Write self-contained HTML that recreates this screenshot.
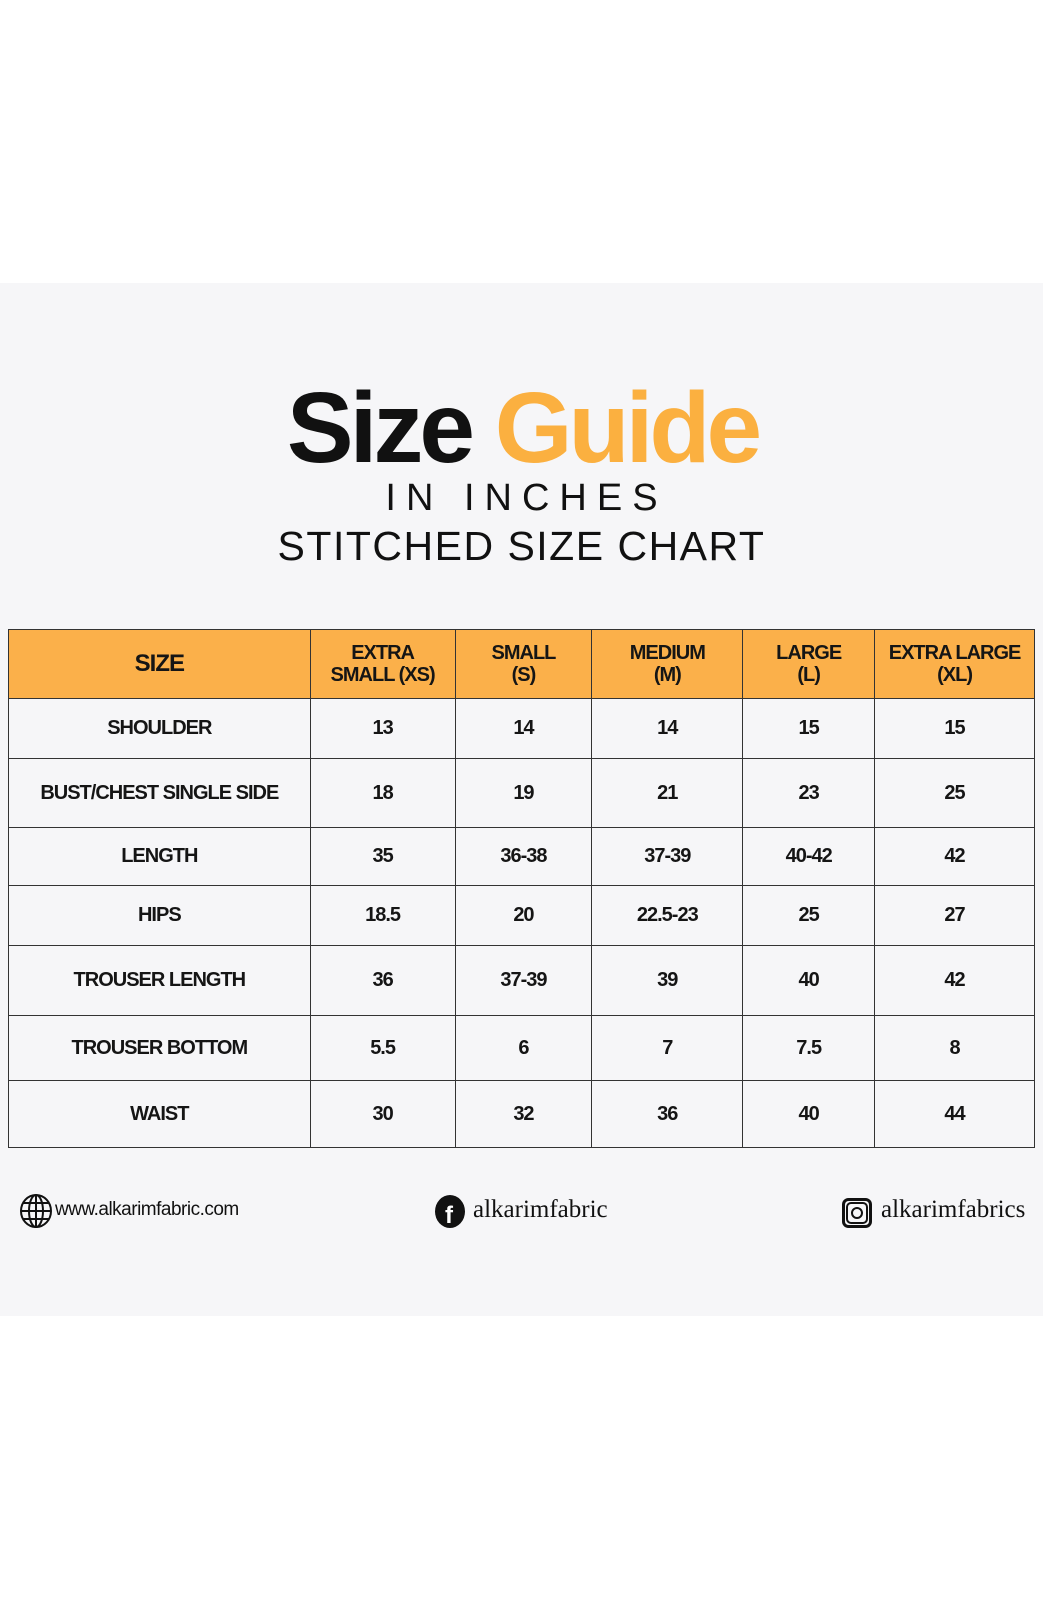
<!DOCTYPE html>
<html><head><meta charset="utf-8"><style>
*{margin:0;padding:0;box-sizing:border-box}
body{width:1043px;height:1600px;background:#fff;font-family:"Liberation Sans",sans-serif;position:relative;overflow:hidden}
.panel{position:absolute;left:0;top:283px;width:1043px;height:1033px;background:#f6f6f8}
.t{position:absolute;left:0;width:1043px;text-align:center;color:#111}
table{position:absolute;left:8px;top:629px;border-collapse:collapse;width:1027px}
td{border:1.5px solid #333;text-align:center;font-weight:bold;font-size:20px;letter-spacing:-1px;color:#151515}
tr.h td{background:#fbb04a;font-size:20px;line-height:22px;height:69px}
.foot{position:absolute;top:1199px;font-size:19px;color:#111}
</style></head><body>
<div class="panel"></div>
<div class="t" style="top:376px;font-size:100px;font-weight:bold;letter-spacing:-4px;line-height:104px;padding-left:2px">Size <span style="color:#fbb040">Guide</span></div>
<div class="t" style="top:476px;font-size:38px;letter-spacing:10px;line-height:44px;padding-left:10px">IN INCHES</div>
<div class="t" style="top:523px;font-size:41px;letter-spacing:1.5px;line-height:46px">STITCHED SIZE CHART</div>
<table>
<colgroup><col style="width:302px"><col style="width:145px"><col style="width:137px"><col style="width:151px"><col style="width:132px"><col style="width:160px"></colgroup>
<tr class="h"><td style="font-size:24px">SIZE</td><td>EXTRA<br>SMALL (XS)</td><td>SMALL<br>(S)</td><td>MEDIUM<br>(M)</td><td>LARGE<br>(L)</td><td>EXTRA LARGE<br>(XL)</td></tr>
<tr style="height:60px"><td>SHOULDER</td><td>13</td><td>14</td><td>14</td><td>15</td><td>15</td></tr>
<tr style="height:69px"><td>BUST/CHEST SINGLE SIDE</td><td>18</td><td>19</td><td>21</td><td>23</td><td>25</td></tr>
<tr style="height:58px"><td>LENGTH</td><td>35</td><td>36-38</td><td>37-39</td><td>40-42</td><td>42</td></tr>
<tr style="height:60px"><td>HIPS</td><td>18.5</td><td>20</td><td>22.5-23</td><td>25</td><td>27</td></tr>
<tr style="height:70px"><td>TROUSER LENGTH</td><td>36</td><td>37-39</td><td>39</td><td>40</td><td>42</td></tr>
<tr style="height:65px"><td>TROUSER BOTTOM</td><td>5.5</td><td>6</td><td>7</td><td>7.5</td><td>8</td></tr>
<tr style="height:67px"><td>WAIST</td><td>30</td><td>32</td><td>36</td><td>40</td><td>44</td></tr>
</table>
<svg style="position:absolute;left:20px;top:1194px" width="32" height="34" viewBox="0 0 32 34"><g fill="none" stroke="#111" stroke-width="2"><ellipse cx="16" cy="17" rx="15" ry="16"/><ellipse cx="16" cy="17" rx="7" ry="16"/><line x1="16" y1="1" x2="16" y2="33"/><line x1="1" y1="17" x2="31" y2="17"/><line x1="3" y1="9" x2="29" y2="9"/><line x1="3" y1="25" x2="29" y2="25"/></g></svg>
<div class="foot" style="left:55px;letter-spacing:-0.5px">www.alkarimfabric.com</div>
<svg style="position:absolute;left:435px;top:1195px" width="30" height="33"><ellipse cx="15" cy="16.5" rx="15" ry="16.5" fill="#111"/><text x="10" y="28" font-family="Liberation Sans" font-weight="bold" font-size="24" fill="#fff">f</text></svg>
<div class="foot" style="left:473px;top:1196px;font-family:'Liberation Serif',serif;font-size:25px">alkarimfabric</div>
<svg style="position:absolute;left:842px;top:1198px" width="30" height="30"><rect x="1.5" y="1.5" width="27" height="27" rx="5" fill="none" stroke="#111" stroke-width="3"/><rect x="5" y="5" width="20" height="20" rx="4" fill="none" stroke="#111" stroke-width="2"/><circle cx="15" cy="15" r="5" fill="none" stroke="#111" stroke-width="2"/></svg>
<div class="foot" style="left:881px;top:1196px;font-family:'Liberation Serif',serif;font-size:25px">alkarimfabrics</div>
</body></html>
